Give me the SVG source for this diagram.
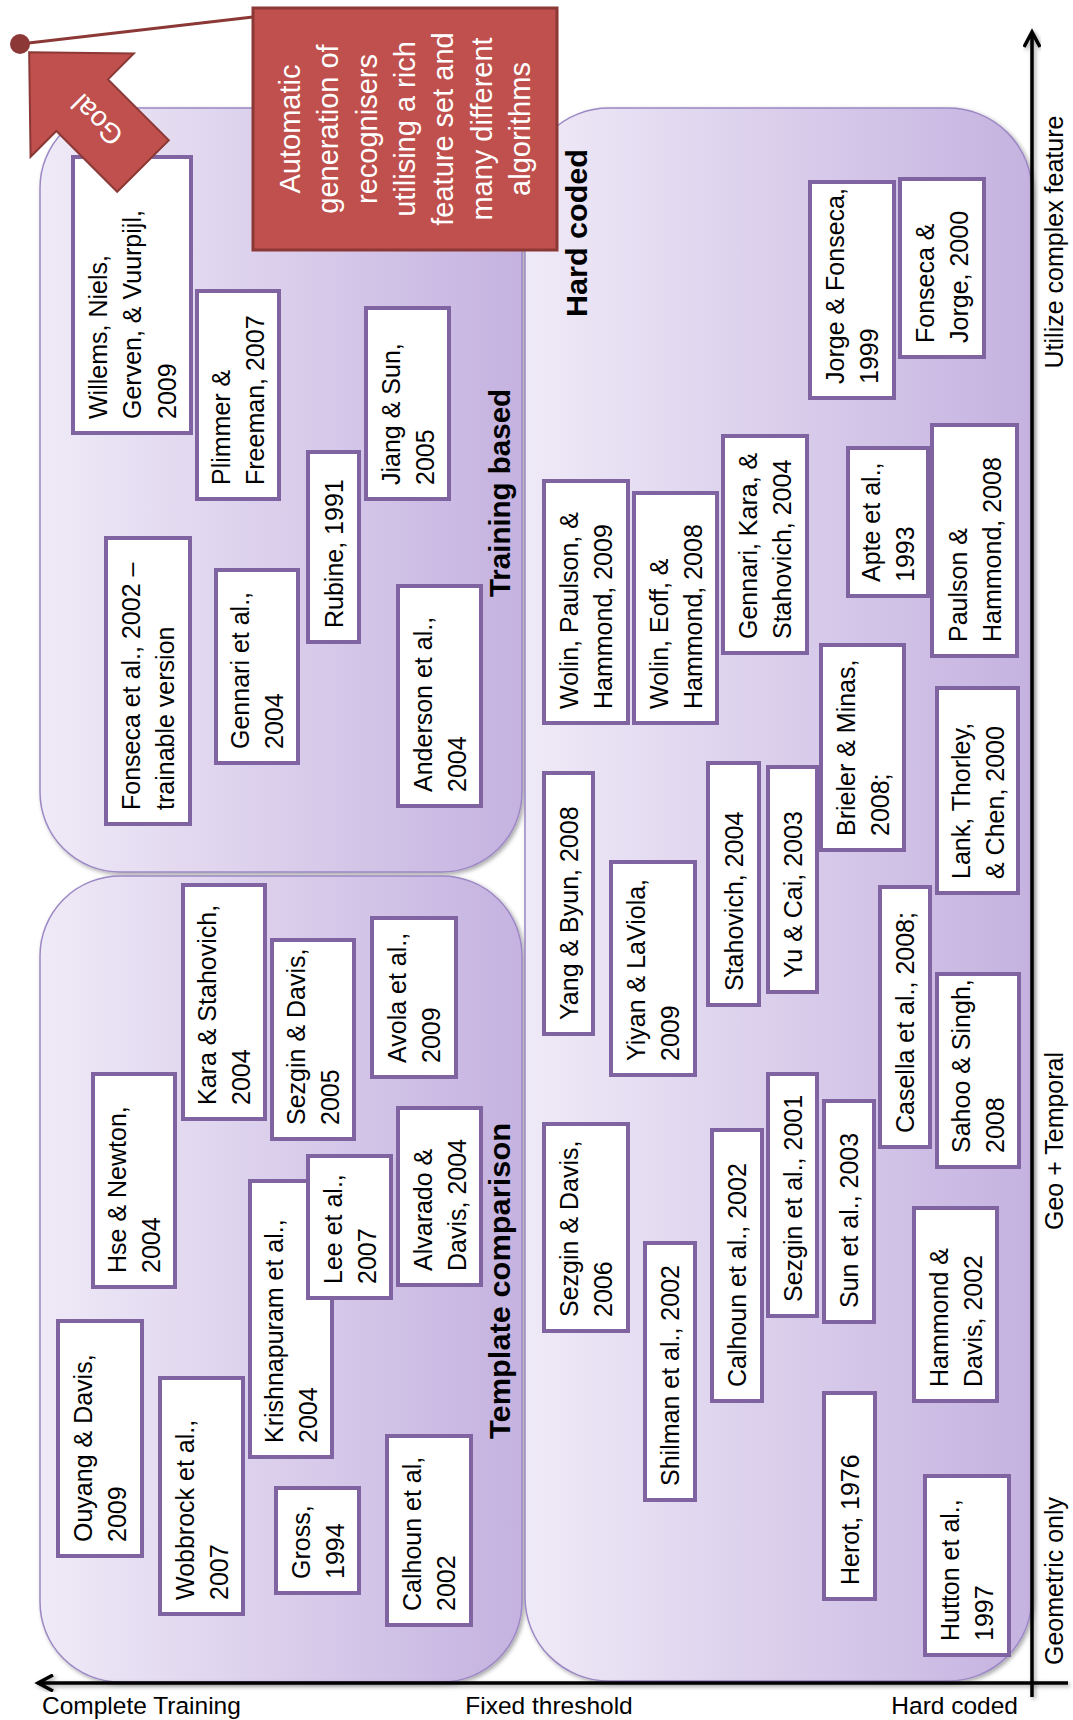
<svg xmlns="http://www.w3.org/2000/svg" width="1073" height="1720" viewBox="0 0 1073 1720">
<defs>
<linearGradient id="rg" x1="0" y1="0" x2="1" y2="0">
<stop offset="0" stop-color="#efeaf7"/>
<stop offset="1" stop-color="#c5b2e0"/>
</linearGradient>
<filter id="sh" x="-5%" y="-5%" width="110%" height="110%">
<feDropShadow dx="2" dy="2" stdDeviation="2" flood-color="#000" flood-opacity="0.35"/>
</filter>
<style>
.region{fill:url(#rg);stroke:#9c88c4;stroke-width:1.5;filter:url(#sh)}
.box{fill:#fff;stroke:#8064a2;stroke-width:4}
.t{font-family:"Liberation Sans",Arial,sans-serif;font-size:25px;fill:#000}
.lbl{font-family:"Liberation Sans",Arial,sans-serif;font-weight:bold;fill:#000;text-anchor:middle}
.ax{font-family:"Liberation Sans",Arial,sans-serif;font-size:24.5px;fill:#000}
.axr{font-family:"Liberation Sans",Arial,sans-serif;font-size:25px;fill:#000;text-anchor:middle}
.axis{stroke:#000;stroke-width:3.5;fill:none;filter:url(#sh)}
.wt{font-family:"Liberation Sans",Arial,sans-serif;font-size:29px;fill:#fff;text-anchor:middle}
</style>
</defs>

<g id="regions">
<g id="r-training"><rect class="region" x="40" y="108" width="482" height="764" rx="80" ry="80"/>
<text class="lbl" font-size="29.5" transform="translate(510,493) rotate(-90)" x="0" y="0">Training based</text></g>
<g id="r-template"><rect class="region" x="40" y="876" width="482" height="806" rx="80" ry="80"/>
<text class="lbl" font-size="29" transform="translate(510,1281) rotate(-90)" x="0" y="0" textLength="316" lengthAdjust="spacingAndGlyphs">Template comparison</text></g>
<g id="r-hardcoded"><rect class="region" x="525" y="108" width="507" height="1573" rx="84" ry="84"/>
<text class="lbl" font-size="30" transform="translate(587,233) rotate(-90)" x="0" y="0" textLength="168" lengthAdjust="spacingAndGlyphs">Hard coded</text></g>
</g>

<g id="axes">
<path class="axis" d="M37,1683 H1068 M53,1675 L38,1683 L53,1691"/>
<path class="axis" d="M1032,1697 V32 M1024,47 L1032,32 L1040,47"/>
<text class="ax" x="42" y="1714">Complete Training</text>
<text class="ax" x="549" y="1714" text-anchor="middle">Fixed threshold</text>
<text class="ax" x="1018" y="1714" text-anchor="end">Hard coded</text>
<text class="axr" transform="translate(1063,242) rotate(-90)">Utilize complex feature</text>
<text class="axr" transform="translate(1063,1141) rotate(-90)">Geo + Temporal</text>
<text class="axr" transform="translate(1063,1581) rotate(-90)">Geometric only</text>
</g>

<g id="nodes">
<g id="n-willems"><rect class="box" x="73" y="157" width="118" height="276"/><text class="t" transform="translate(132,419) rotate(-90)"><tspan x="0" y="-25.5">Willems, Niels,</tspan><tspan x="0" y="9">Gerven, &amp; Vuurpijl,</tspan><tspan x="0" y="43.5">2009</tspan></text></g>
<g id="n-plimmer"><rect class="box" x="197" y="291" width="82" height="208"/><text class="t" transform="translate(238,485) rotate(-90)"><tspan x="0" y="-8">Plimmer &amp;</tspan><tspan x="0" y="26">Freeman, 2007</tspan></text></g>
<g id="n-jiang"><rect class="box" x="366" y="308" width="83" height="191"/><text class="t" transform="translate(407.5,485) rotate(-90)"><tspan x="0" y="-8">Jiang &amp; Sun,</tspan><tspan x="0" y="26">2005</tspan></text></g>
<g id="n-rubine"><rect class="box" x="308" y="452" width="51" height="190"/><text class="t" transform="translate(333.5,628) rotate(-90)"><tspan x="0" y="9">Rubine, 1991</tspan></text></g>
<g id="n-fonseca2002"><rect class="box" x="106" y="538" width="84" height="286"/><text class="t" transform="translate(148,810) rotate(-90)"><tspan x="0" y="-8">Fonseca et al., 2002 –</tspan><tspan x="0" y="26">trainable version</tspan></text></g>
<g id="n-gennari2004"><rect class="box" x="216" y="570" width="82" height="193"/><text class="t" transform="translate(257,749) rotate(-90)"><tspan x="0" y="-8">Gennari et al.,</tspan><tspan x="0" y="26">2004</tspan></text></g>
<g id="n-anderson"><rect class="box" x="398" y="586" width="83" height="220"/><text class="t" transform="translate(439.5,792) rotate(-90)"><tspan x="0" y="-8">Anderson et al.,</tspan><tspan x="0" y="26">2004</tspan></text></g>

<g id="n-kara"><rect class="box" x="183" y="885" width="82" height="234"/><text class="t" transform="translate(224,1105) rotate(-90)"><tspan x="0" y="-8">Kara &amp; Stahovich,</tspan><tspan x="0" y="26">2004</tspan></text></g>
<g id="n-sezgin2005"><rect class="box" x="272" y="940" width="82" height="199"/><text class="t" transform="translate(313,1125) rotate(-90)"><tspan x="0" y="-8">Sezgin &amp; Davis,</tspan><tspan x="0" y="26">2005</tspan></text></g>
<g id="n-avola"><rect class="box" x="372" y="918" width="84" height="159"/><text class="t" transform="translate(414,1063) rotate(-90)"><tspan x="0" y="-8">Avola et al.,</tspan><tspan x="0" y="26">2009</tspan></text></g>
<g id="n-hse"><rect class="box" x="93" y="1074" width="82" height="213"/><text class="t" transform="translate(134,1273) rotate(-90)"><tspan x="0" y="-8">Hse &amp; Newton,</tspan><tspan x="0" y="26">2004</tspan></text></g>
<g id="n-alvarado"><rect class="box" x="398" y="1108" width="83" height="177"/><text class="t" transform="translate(439.5,1271) rotate(-90)"><tspan x="0" y="-8">Alvarado &amp;</tspan><tspan x="0" y="26">Davis, 2004</tspan></text></g>
<g id="n-krishnapuram"><rect class="box" x="250" y="1181" width="82" height="276"/><text class="t" transform="translate(291,1443) rotate(-90)"><tspan x="0" y="-8">Krishnapuram et al.,</tspan><tspan x="0" y="26">2004</tspan></text></g>
<g id="n-lee"><rect class="box" x="308" y="1156" width="83" height="142"/><text class="t" transform="translate(349.5,1284) rotate(-90)"><tspan x="0" y="-8">Lee et al.,</tspan><tspan x="0" y="26">2007</tspan></text></g>
<g id="n-ouyang"><rect class="box" x="58" y="1321" width="84" height="235"/><text class="t" transform="translate(100,1542) rotate(-90)"><tspan x="0" y="-8">Ouyang &amp; Davis,</tspan><tspan x="0" y="26">2009</tspan></text></g>
<g id="n-wobbrock"><rect class="box" x="160" y="1378" width="83" height="236"/><text class="t" transform="translate(201.5,1600) rotate(-90)"><tspan x="0" y="-8">Wobbrock et al.,</tspan><tspan x="0" y="26">2007</tspan></text></g>
<g id="n-gross"><rect class="box" x="276" y="1488" width="83" height="105"/><text class="t" transform="translate(317.5,1579) rotate(-90)"><tspan x="0" y="-8">Gross,</tspan><tspan x="0" y="26">1994</tspan></text></g>
<g id="n-calhoun-al"><rect class="box" x="387" y="1436" width="84" height="189"/><text class="t" transform="translate(429,1611) rotate(-90)"><tspan x="0" y="-8">Calhoun et al,</tspan><tspan x="0" y="26">2002</tspan></text></g>

<g id="n-jorge-fonseca"><rect class="box" x="810" y="182" width="84" height="216"/><text class="t" transform="translate(852,384) rotate(-90)"><tspan x="0" y="-8">Jorge &amp; Fonseca,</tspan><tspan x="0" y="26">1999</tspan></text></g>
<g id="n-fonseca-jorge"><rect class="box" x="900" y="179" width="84" height="178"/><text class="t" transform="translate(942,343) rotate(-90)"><tspan x="0" y="-8">Fonseca &amp;</tspan><tspan x="0" y="26">Jorge, 2000</tspan></text></g>
<g id="n-wolin-paulson"><rect class="box" x="544" y="481" width="84" height="242"/><text class="t" transform="translate(586,709) rotate(-90)"><tspan x="0" y="-8">Wolin, Paulson, &amp;</tspan><tspan x="0" y="26">Hammond, 2009</tspan></text></g>
<g id="n-wolin-eoff"><rect class="box" x="634" y="493" width="83" height="230"/><text class="t" transform="translate(675.5,709) rotate(-90)"><tspan x="0" y="-8">Wolin, Eoff, &amp;</tspan><tspan x="0" y="26">Hammond, 2008</tspan></text></g>
<g id="n-gennari-kara"><rect class="box" x="723" y="436" width="84" height="217"/><text class="t" transform="translate(765,639) rotate(-90)"><tspan x="0" y="-8">Gennari, Kara, &amp;</tspan><tspan x="0" y="26">Stahovich, 2004</tspan></text></g>
<g id="n-apte"><rect class="box" x="848" y="448" width="80" height="148"/><text class="t" transform="translate(888,582) rotate(-90)"><tspan x="0" y="-8">Apte et al.,</tspan><tspan x="0" y="26">1993</tspan></text></g>
<g id="n-paulson-hammond"><rect class="box" x="932" y="425" width="85" height="231"/><text class="t" transform="translate(974.5,642) rotate(-90)"><tspan x="0" y="-8">Paulson &amp;</tspan><tspan x="0" y="26">Hammond, 2008</tspan></text></g>
<g id="n-brieler"><rect class="box" x="821" y="645" width="83" height="205"/><text class="t" transform="translate(862.5,836) rotate(-90)"><tspan x="0" y="-8">Brieler &amp; Minas,</tspan><tspan x="0" y="26">2008;</tspan></text></g>
<g id="n-lank"><rect class="box" x="937" y="688" width="81" height="205"/><text class="t" transform="translate(977.5,879) rotate(-90)"><tspan x="0" y="-8">Lank, Thorley,</tspan><tspan x="0" y="26">&amp; Chen, 2000</tspan></text></g>
<g id="n-yang"><rect class="box" x="544" y="773" width="49" height="261"/><text class="t" transform="translate(568.5,1020) rotate(-90)"><tspan x="0" y="9">Yang &amp; Byun, 2008</tspan></text></g>
<g id="n-stahovich"><rect class="box" x="708" y="763" width="51" height="242"/><text class="t" transform="translate(733.5,991) rotate(-90)"><tspan x="0" y="9">Stahovich, 2004</tspan></text></g>
<g id="n-yucai"><rect class="box" x="768" y="767" width="49" height="225"/><text class="t" transform="translate(792.5,978) rotate(-90)"><tspan x="0" y="9">Yu &amp; Cai, 2003</tspan></text></g>
<g id="n-yiyan"><rect class="box" x="611" y="862" width="84" height="213"/><text class="t" transform="translate(653,1061) rotate(-90)"><tspan x="0" y="-8">Yiyan &amp; LaViola,</tspan><tspan x="0" y="26">2009</tspan></text></g>
<g id="n-casella"><rect class="box" x="880" y="887" width="50" height="260"/><text class="t" transform="translate(905,1133) rotate(-90)"><tspan x="0" y="9">Casella et al., 2008;</tspan></text></g>
<g id="n-sezgin2006"><rect class="box" x="544" y="1124" width="84" height="207"/><text class="t" transform="translate(586,1317) rotate(-90)"><tspan x="0" y="-8">Sezgin &amp; Davis,</tspan><tspan x="0" y="26">2006</tspan></text></g>
<g id="n-shilman"><rect class="box" x="645" y="1243" width="50" height="257"/><text class="t" transform="translate(670,1486) rotate(-90)"><tspan x="0" y="9">Shilman et al., 2002</tspan></text></g>
<g id="n-calhoun2002"><rect class="box" x="712" y="1130" width="50" height="271"/><text class="t" transform="translate(737,1387) rotate(-90)"><tspan x="0" y="9">Calhoun et al., 2002</tspan></text></g>
<g id="n-sezgin2001"><rect class="box" x="768" y="1074" width="49" height="242"/><text class="t" transform="translate(792.5,1302) rotate(-90)"><tspan x="0" y="9">Sezgin et al., 2001</tspan></text></g>
<g id="n-sun"><rect class="box" x="824" y="1101" width="50" height="221"/><text class="t" transform="translate(849,1308) rotate(-90)"><tspan x="0" y="9">Sun et al., 2003</tspan></text></g>
<g id="n-sahoo"><rect class="box" x="937" y="974" width="82" height="193"/><text class="t" transform="translate(978,1153) rotate(-90)"><tspan x="0" y="-8">Sahoo &amp; Singh,</tspan><tspan x="0" y="26">2008</tspan></text></g>
<g id="n-hammond-davis"><rect class="box" x="914" y="1208" width="83" height="193"/><text class="t" transform="translate(955.5,1387) rotate(-90)"><tspan x="0" y="-8">Hammond &amp;</tspan><tspan x="0" y="26">Davis, 2002</tspan></text></g>
<g id="n-herot"><rect class="box" x="824" y="1393" width="51" height="206"/><text class="t" transform="translate(849.5,1585) rotate(-90)"><tspan x="0" y="9">Herot, 1976</tspan></text></g>
<g id="n-hutton"><rect class="box" x="925" y="1476" width="84" height="179"/><text class="t" transform="translate(967,1641) rotate(-90)"><tspan x="0" y="-8">Hutton et al.,</tspan><tspan x="0" y="26">1997</tspan></text></g>

<g id="n-goal"><g transform="translate(143,166) rotate(225)"><polygon points="0,-36.5 86,-36.5 86,-73 161,0 86,73 86,36.5 0,36.5" fill="#c0504d" stroke="#8c3836" stroke-width="2"/><text x="65" y="10" font-family="'Liberation Sans',Arial,sans-serif" font-size="28" fill="#fff" text-anchor="middle">Goal</text></g></g>

<g id="n-automatic"><rect x="253" y="8" width="304" height="242" fill="#c0504d" stroke="#8c3836" stroke-width="3"/>
<text class="wt" transform="translate(405,129) rotate(-90)"><tspan x="0" y="-104.9">Automatic</tspan><tspan x="0" y="-66.6">generation of</tspan><tspan x="0" y="-28.3">recognisers</tspan><tspan x="0" y="10">utilising a rich</tspan><tspan x="0" y="48.3">feature set and</tspan><tspan x="0" y="86.6">many different</tspan><tspan x="0" y="124.9">algorithms</tspan></text></g>
</g>

<g id="connectors">
<line x1="253" y1="17" x2="20" y2="44" stroke="#8c3836" stroke-width="3"/>
<circle cx="20" cy="44" r="10" fill="#8c3836"/>
</g>
</svg>
